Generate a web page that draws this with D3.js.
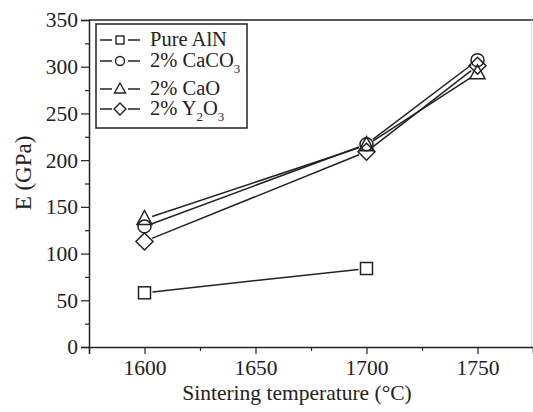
<!DOCTYPE html>
<html><head><meta charset="utf-8">
<script src="https://cdn.jsdelivr.net/npm/d3@7"></script>
<style>body{margin:0;background:#fff}svg{display:block}</style>
</head><body>
<script>
const temperatures = [1600, 1700, 1750];
const seriesNames = ["Pure AlN", "2% CaCO3", "2% CaO", "2% Y2O3"];
const pureAlN = [58, 84, null];
const caco3 = [129, 217, 307];
const cao = [137, 216, 293];
const y2o3 = [113, 209, 301];
const xTicks = [1600, 1650, 1700, 1750];
const yTicks = [0, 50, 100, 150, 200, 250, 300, 350];
const symbols = ["square", "circle", "triangle", "diamond"];

const FONT = "'Liberation Serif'";
const FS = "21.5px";
const W = 533, H = 412;
const svg = d3.select("body").append("svg").attr("width", W).attr("height", H);
const x = d3.scaleLinear().domain([1575, 1775]).range([89, 533]);
const y = d3.scaleLinear().domain([0, 350]).range([347, 20]);
const ink = "#222";

// frame
svg.append("line").attr("x1", 89).attr("x2", 533).attr("y1", 20).attr("y2", 20).attr("stroke", ink).attr("stroke-width", 1.5);
svg.append("line").attr("x1", 531.5).attr("x2", 531.5).attr("y1", 20).attr("y2", 347).attr("stroke", "#ddd").attr("stroke-width", 1);

// axes
const xAxis = d3.axisBottom(x).tickValues(xTicks).tickFormat(d3.format("d")).tickSize(7).tickPadding(6);
const gx = svg.append("g").attr("transform", "translate(0,347)").call(xAxis);
const xMinor = d3.axisBottom(x).tickValues([1575, 1625, 1675, 1725, 1775]).tickSize(4).tickFormat("");
const gxm = svg.append("g").attr("transform", "translate(0,347)").call(xMinor);
gxm.select(".domain").remove();

const yAxis = d3.axisLeft(y).tickValues(yTicks).tickSize(8).tickPadding(3);
const gy = svg.append("g").attr("transform", "translate(89,0)").call(yAxis);
const yMinor = d3.axisLeft(y).tickValues(d3.range(25, 350, 50)).tickSize(4).tickFormat("");
const gym = svg.append("g").attr("transform", "translate(89,0)").call(yMinor);
gym.select(".domain").remove();
svg.selectAll(".domain").attr("stroke", ink).attr("stroke-width", 1.5);
svg.selectAll(".tick line").attr("stroke", ink).attr("stroke-width", 1.2);
svg.selectAll("g").attr("font-family", null).attr("font-size", null);
svg.selectAll(".tick text").style("font-size", FS);

// axis titles
svg.append("text").attr("x", 297).attr("y", 400).attr("text-anchor", "middle").style("font-size", FS).text("Sintering temperature (°C)");
svg.append("text").attr("transform", "translate(31,173) rotate(-90)").attr("text-anchor", "middle").style("font-size", "23px").text("E (GPa)");

// marker drawing
function marker(g, type, cx, cy) {
  let p;
  if (type === "square") p = g.append("rect").attr("x", cx - 6).attr("y", cy - 6).attr("width", 12).attr("height", 12);
  else if (type === "circle") p = g.append("circle").attr("cx", cx).attr("cy", cy).attr("r", 6.5);
  else if (type === "triangle") p = g.append("path").attr("d", `M${cx},${cy - 8.5}L${cx + 7.5},${cy + 5.5}L${cx - 7.5},${cy + 5.5}Z`);
  else p = g.append("path").attr("d", `M${cx},${cy - 8.5}L${cx + 8.5},${cy}L${cx},${cy + 8.5}L${cx - 8.5},${cy}Z`);
  p.attr("fill", "none").attr("stroke", ink).attr("stroke-width", 1.5);
}

const allSeries = [pureAlN, caco3, cao, y2o3];
const plot = svg.append("g");
allSeries.forEach((vals, si) => {
  const pts = temperatures.map((t, i) => vals[i] == null ? null : [x(t), y(vals[i])]).filter(d => d);
  for (let i = 0; i < pts.length - 1; i++) {
    const [x1, y1] = pts[i], [x2, y2] = pts[i + 1];
    const len = Math.hypot(x2 - x1, y2 - y1), g = 8;
    const ux = (x2 - x1) / len, uy = (y2 - y1) / len;
    plot.append("line").attr("x1", x1 + ux * g).attr("y1", y1 + uy * g).attr("x2", x2 - ux * g).attr("y2", y2 - uy * g)
      .attr("stroke", ink).attr("stroke-width", 1.5);
  }
  pts.forEach(p => marker(plot, symbols[si], p[0], p[1]));
});

// legend
const leg = svg.append("g");
leg.append("rect").attr("x", 96).attr("y", 24).attr("width", 151).attr("height", 104).attr("fill", "#fff").attr("stroke", ink).attr("stroke-width", 1.5);
const rowY = [40, 61, 89, 109];
seriesNames.forEach((name, i) => {
  const cy = rowY[i];
  leg.append("line").attr("x1", 100).attr("x2", 112).attr("y1", cy).attr("y2", cy).attr("stroke", ink).attr("stroke-width", 1.5);
  leg.append("line").attr("x1", 128).attr("x2", 140).attr("y1", cy).attr("y2", cy).attr("stroke", ink).attr("stroke-width", 1.5);
  const s = symbols[i];
  if (s === "square") leg.append("rect").attr("x", 116).attr("y", cy - 4).attr("width", 8).attr("height", 8).attr("fill", "none").attr("stroke", ink).attr("stroke-width", 1.4);
  else if (s === "circle") leg.append("circle").attr("cx", 120).attr("cy", cy).attr("r", 4.5).attr("fill", "none").attr("stroke", ink).attr("stroke-width", 1.4);
  else if (s === "triangle") leg.append("path").attr("d", `M120,${cy - 6}L125.5,${cy + 4}L114.5,${cy + 4}Z`).attr("fill", "none").attr("stroke", ink).attr("stroke-width", 1.4);
  else leg.append("path").attr("d", `M120,${cy - 6}L126,${cy}L120,${cy + 6}L114,${cy}Z`).attr("fill", "none").attr("stroke", ink).attr("stroke-width", 1.4);
  const t = leg.append("text").attr("x", 150).attr("y", cy + 6).style("font-size", "20.5px");
  const parts = name.split(/(\d+)/);
  parts.forEach((part, k) => {
    if (part === "") return;
    const isNum = /^\d+$/.test(part);
    const prevChar = k > 0 ? parts[k - 1].slice(-1) : "";
    const sub = isNum && /[A-Za-z]/.test(prevChar);
    if (sub) t.append("tspan").attr("dy", 6).style("font-size", "13px").text(part);
    else t.append("tspan").attr("dy", k > 0 && /^\d+$/.test(parts[k - 1]) && /[A-Za-z]/.test((parts[k - 2] || "").slice(-1)) ? -6 : 0).text(part);
  });
});

svg.selectAll("text").style("font-family", FONT).style("fill", ink);
</script>
</body></html>
